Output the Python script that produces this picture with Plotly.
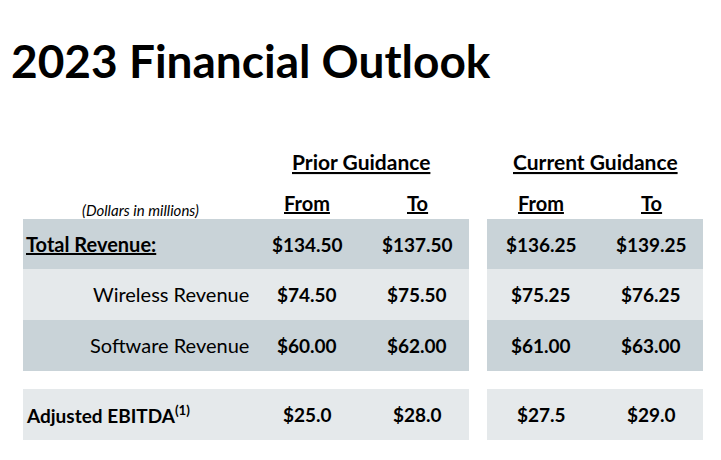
import plotly.graph_objects as go

# ---- data ----
title = "2023 Financial Outlook"
group_labels = ["Prior Guidance", "Current Guidance"]
column_labels = ["From", "To", "From", "To"]
row_labels = ["Total Revenue:", "Wireless Revenue", "Software Revenue", "Adjusted EBITDA<sup>(1)</sup>"]
prior_from = ["$134.50", "$74.50", "$60.00", "$25.0"]
prior_to = ["$137.50", "$75.50", "$62.00", "$28.0"]
current_from = ["$136.25", "$75.25", "$61.00", "$27.5"]
current_to = ["$139.25", "$76.25", "$63.00", "$29.0"]
units_note = "(Dollars in millions)"

# ---- layout constants ----
FONT = "Lato"
W, H = 721, 460
OFF = 8  # page body margin compensation
DARK = "#C9D3D8"
LIGHT = "#E5E9EB"
row_bounds = [(219, 269), (269, 320), (320, 371), (389, 440)]
row_fills = [DARK, LIGHT, DARK, LIGHT]
blocks = [(23, 469), (487, 703)]
col_x = [307, 417, 541, 651]
group_x = [361, 595]

fig = go.Figure()
shapes = []
for (y0, y1), fill in zip(row_bounds, row_fills):
    for (x0, x1) in blocks:
        shapes.append(dict(type="rect", xref="x", yref="y", x0=x0, x1=x1, y0=y0, y1=y1,
                           fillcolor=fill, line=dict(width=0), layer="below"))

ann = []
ann.append(dict(x=9, y=60, text=f"<b>{title}</b>", xanchor="left", yanchor="middle",
                showarrow=False, font=dict(family=FONT, size=46, color="#000")))
for gx, g in zip(group_x, group_labels):
    ann.append(dict(x=gx, y=161, text=f"<b><u>{g}</u></b>", showarrow=False,
                    font=dict(family=FONT, size=21, color="#000")))
for cx, c in zip(col_x, column_labels):
    ann.append(dict(x=cx, y=203, text=f"<b><u>{c}</u></b>", showarrow=False,
                    font=dict(family=FONT, size=20, color="#000")))
ann.append(dict(x=140, y=210, text=f"<i>{units_note}</i>", showarrow=False,
                font=dict(family=FONT, size=15, color="#000")))

for i, lab in enumerate(row_labels):
    yc = (row_bounds[i][0] + row_bounds[i][1]) / 2
    if i == 0:
        ann.append(dict(x=24, y=yc, text=f"<b><u>{lab}</u></b>", xanchor="left", showarrow=False,
                        font=dict(family=FONT, size=20, color="#000")))
    elif i == 3:
        ann.append(dict(x=24, y=yc, text=f"<b>{lab}</b>", xanchor="left", showarrow=False,
                        font=dict(family=FONT, size=19, color="#000")))
    else:
        ann.append(dict(x=251, y=yc - 1, text=lab, xanchor="right", showarrow=False,
                        font=dict(family=FONT, size=20, color="#000")))
    for cx, series in zip(col_x, [prior_from, prior_to, current_from, current_to]):
        ann.append(dict(x=cx, y=yc, text=f"<b>{series[i]}</b>", showarrow=False,
                        font=dict(family=FONT, size=19, color="#000")))

fig.update_layout(
    width=W, height=H, margin=dict(l=0, r=0, t=0, b=0),
    paper_bgcolor="white", plot_bgcolor="white",
    xaxis=dict(range=[OFF, W + OFF], visible=False, fixedrange=True),
    yaxis=dict(range=[H + OFF, OFF], visible=False, fixedrange=True),
    shapes=shapes, annotations=ann, showlegend=False,
)
fig.write_html("out.html")
